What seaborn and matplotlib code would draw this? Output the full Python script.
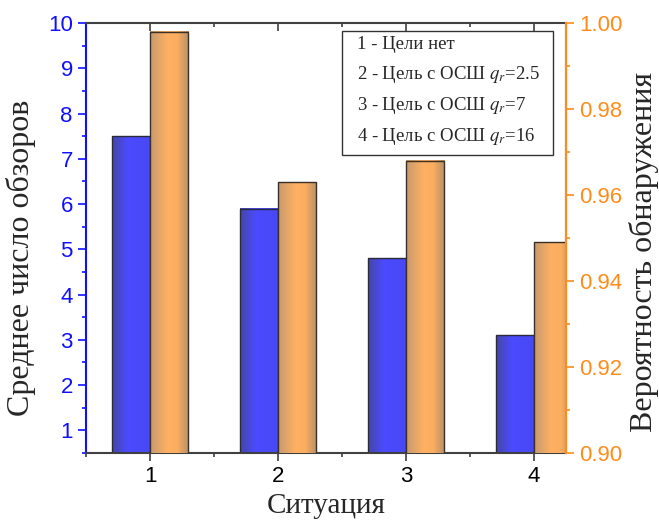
import numpy as np
import seaborn as sns
import matplotlib.pyplot as plt
from matplotlib.colors import LinearSegmentedColormap
from matplotlib.patches import Rectangle
from matplotlib.ticker import MultipleLocator

# data
situations = [1, 2, 3, 4]
mean_scans = [7.5, 5.9, 4.8, 3.1]
detect_prob = [0.998, 0.963, 0.968, 0.949]
legend_lines = ["1 - Цели нет",
                "2 - Цель с ОСШ $q_r$=2.5",
                "3 - Цель с ОСШ $q_r$=7",
                "4 - Цель с ОСШ $q_r$=16"]

sns.set_style("white")
plt.rcParams['font.family'] = ['Liberation Sans', 'DejaVu Sans']
plt.rcParams['mathtext.fontset'] = 'stix'

BLUE_AX = '#1010ff'
ORANGE_AX = '#ff8c1a'
serif = ['Liberation Serif', 'DejaVu Serif']

fig = plt.figure(figsize=(6.59, 5.21), dpi=100)
ax1 = fig.add_axes([86/659, 68/521, 480/659, 430/521])
ax2 = ax1.twinx()

sns.barplot(x=[s - 0.15 for s in situations], y=mean_scans, native_scale=True,
            width=0.3, errorbar=None, ax=ax1, color='#4a4aff',
            edgecolor='#2a2a3a', linewidth=1)
sns.barplot(x=[s + 0.15 for s in situations], y=detect_prob, native_scale=True,
            width=0.3, errorbar=None, ax=ax2, color='#ffb060',
            edgecolor='#3a3028', linewidth=1)

ax1.set_xlim(0.5, 4.25)
ax1.set_ylim(0.5, 10)
ax2.set_ylim(0.90, 1.00)

# Origin-like shaded bars (gradient images cut to the visible part of each bar)
blue_cmap = LinearSegmentedColormap.from_list(
    'b', [(0, '#4646a6'), (0.4, '#4b4bff'), (1, '#4848f4')])
orange_cmap = LinearSegmentedColormap.from_list(
    'o', [(0, '#c69a70'), (0.45, '#ffb062'), (0.7, '#fcae60'), (1, '#b89068')])
grad = np.linspace(0, 1, 64).reshape(1, -1)
for ax, cmap in [(ax1, blue_cmap), (ax2, orange_cmap)]:
    lo = ax.get_ylim()[0]
    for p in list(ax.patches):
        x0, y0 = p.get_x(), p.get_y()
        w, h = p.get_width(), p.get_height()
        ax.imshow(grad, cmap=cmap, aspect='auto', interpolation='bilinear',
                  extent=[x0, x0 + w, max(y0, lo), y0 + h],
                  zorder=p.get_zorder() - 0.1)
        p.set_facecolor('none')
        p.set_clip_on(True)
        p.set_clip_box(ax.bbox)
ax1.set_xlim(0.5, 4.25)
ax1.set_ylim(0.5, 10)
ax2.set_ylim(0.90, 1.00)

ax1.set_xticks(situations)
ax1.set_xticklabels([str(s) for s in situations])
ax1.xaxis.set_minor_locator(MultipleLocator(0.5))
ax1.set_yticks(range(1, 11))
ax1.yaxis.set_minor_locator(MultipleLocator(0.5))
ax2.set_yticks([0.90, 0.92, 0.94, 0.96, 0.98, 1.00])
ax2.set_yticklabels(['0.90', '0.92', '0.94', '0.96', '0.98', '1.00'])
ax2.yaxis.set_minor_locator(MultipleLocator(0.01))

ax1.tick_params(axis='x', which='major', direction='out', length=6, width=1.2,
                colors='#404040', labelcolor='black', labelsize=16, bottom=True)
ax1.tick_params(axis='x', which='minor', direction='out', length=3, width=1.2,
                colors='#404040', bottom=True)
ax1.tick_params(axis='y', which='major', direction='out', length=6, width=1.2,
                colors=BLUE_AX, labelsize=16, left=True)
ax1.tick_params(axis='y', which='minor', direction='out', length=3, width=1.2,
                colors=BLUE_AX, left=True)
ax2.tick_params(axis='y', which='major', direction='out', length=6, width=1.2,
                colors=ORANGE_AX, labelsize=16, right=True)
ax2.tick_params(axis='y', which='minor', direction='out', length=3, width=1.2,
                colors=ORANGE_AX, right=True)

top = ax1.secondary_xaxis('top')
top.set_xticks(situations)
top.xaxis.set_minor_locator(MultipleLocator(0.5))
top.tick_params(which='major', direction='in', length=6, width=1.2,
                colors='#404040', labeltop=False)
top.tick_params(which='minor', direction='in', length=3, width=1.2, colors='#404040')
top.spines['top'].set_visible(False)

for name, sp in ax1.spines.items():
    sp.set_linewidth(1.5)
    sp.set_color('#404040')
ax1.spines['left'].set_color(BLUE_AX)
for name, sp in ax2.spines.items():
    sp.set_visible(name == 'right')
ax2.spines['right'].set_color(ORANGE_AX)
ax2.spines['right'].set_linewidth(1.5)

# axis titles placed where the reference has them
fig.text(326/659, 1 - 506/521, 'Ситуация', family=serif, fontsize=21,
         ha='center', va='center')
fig.text(21/659, 1 - 258/521, 'Среднее число обзоров', family=serif, fontsize=23,
         rotation=90, ha='center', va='center')
fig.text(644/659, 1 - 252/521, 'Вероятность обнаружения', family=serif, fontsize=23,
         rotation=90, ha='center', va='center')

# legend-like text box
ax2.add_patch(Rectangle((0.533, 0.693), 0.44, 0.288, transform=ax2.transAxes,
                        facecolor='white', edgecolor='#333333', linewidth=1, zorder=5))
for line, yy in zip(legend_lines, [0.949, 0.880, 0.808, 0.735]):
    ax2.text(0.565, yy, line, transform=ax2.transAxes, family=serif,
             fontsize=13.5, va='center', ha='left', zorder=6)

fig.savefig('out.png', dpi=100)
